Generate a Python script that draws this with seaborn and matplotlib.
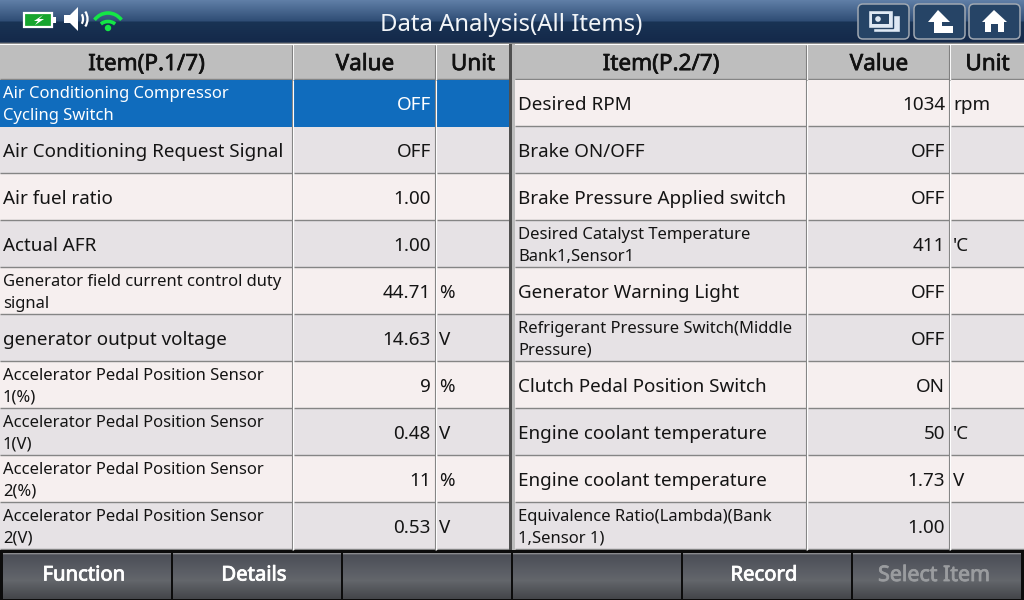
import numpy as np
import seaborn as sns
import matplotlib.pyplot as plt
import matplotlib.patheffects as pe
from matplotlib.colors import ListedColormap, LinearSegmentedColormap
from matplotlib.patches import FancyBboxPatch, Rectangle, Polygon, Arc, Circle

W, H = 1024, 600

title = "Data Analysis(All Items)"
buttons = ["Function", "Details", "", "", "Record", "Select Item"]
headers_left = ["Item(P.1/7)", "Value", "Unit"]
headers_right = ["Item(P.2/7)", "Value", "Unit"]

items_left = [
    "Air Conditioning Compressor\nCycling Switch",
    "Air Conditioning Request Signal",
    "Air fuel ratio",
    "Actual AFR",
    "Generator field current control duty\nsignal",
    "generator output voltage",
    "Accelerator Pedal Position Sensor\n1(%)",
    "Accelerator Pedal Position Sensor\n1(V)",
    "Accelerator Pedal Position Sensor\n2(%)",
    "Accelerator Pedal Position Sensor\n2(V)",
]
values_left = ["OFF", "OFF", "1.00", "1.00", "44.71", "14.63", "9", "0.48", "11", "0.53"]
units_left = ["", "", "", "", "%", "V", "%", "V", "%", "V"]

items_right = [
    "Desired RPM",
    "Brake ON/OFF",
    "Brake Pressure Applied switch",
    "Desired Catalyst Temperature\nBank1,Sensor1",
    "Generator Warning Light",
    "Refrigerant Pressure Switch(Middle\nPressure)",
    "Clutch Pedal Position Switch",
    "Engine coolant temperature",
    "Engine coolant temperature",
    "Equivalence Ratio(Lambda)(Bank\n1,Sensor 1)",
]
values_right = ["1034", "OFF", "OFF", "411", "OFF", "OFF", "ON", "50", "1.73", "1.00"]
units_right = ["rpm", "", "", "'C", "", "", "", "'C", "V", ""]

# row shade codes: 0 light, 1 grey, 2 selected
shades_left = [2, 1, 0, 1, 0, 1, 0, 1, 0, 1]
shades_right = [0, 1, 0, 1, 0, 1, 0, 1, 0, 1]

sns.set_theme(style="white")
plt.rcParams["font.family"] = ["Noto Sans", "DejaVu Sans"]

ROW_TOP, ROW_H, N_ROWS = 80, 47, 10
cell_cmap = ListedColormap(["#f6efef", "#e6e2e5", "#106cbd"])
edge = "#858585"


def px_axes(fig, x0, y0, x1, y1):
    return fig.add_axes([x0 / W, 1 - y1 / H, (x1 - x0) / W, (y1 - y0) / H])


def fake_bold(color, width=0.55):
    return [pe.withStroke(linewidth=width, foreground=color)]


def draw_column(fig, x0, x1, header, texts, shades, kind, pad):
    # header cell
    ax = px_axes(fig, x0, 45, x1, ROW_TOP)
    sns.heatmap(np.zeros((1, 1)), ax=ax, cbar=False, xticklabels=False, yticklabels=False,
                cmap=ListedColormap(["#bebebe"]))
    ax.text(0.5, 0.44, header, ha="center", va="center", fontsize=16.2, color="#111111",
            transform=ax.transAxes, path_effects=fake_bold("#111111", 0.5))
    ax.hlines([0.98], 0, 1, color=edge, lw=1)

    # body cells, one heatmap per column
    ax = px_axes(fig, x0, ROW_TOP, x1, ROW_TOP + ROW_H * N_ROWS)
    sns.heatmap(np.array(shades).reshape(-1, 1), ax=ax, cbar=False, vmin=0, vmax=2,
                xticklabels=False, yticklabels=False, cmap=cell_cmap)
    for r in range(1, N_ROWS + 1):
        if shades[r - 1] != 2:
            ax.hlines(r - 0.012, 0, 1, color=edge, lw=1)
    width = x1 - x0
    dy = 1.5 / ROW_H
    for i, (txt, s) in enumerate(zip(texts, shades)):
        color = "white" if s == 2 else "#141414"
        two_lines = "\n" in txt
        if kind == "value":
            ax.text(1 - pad / width, i + 0.5 + dy, txt, ha="right", va="center", fontsize=13.55, color=color)
        elif kind == "unit":
            ax.text(pad / width, i + 0.5 + dy, txt, ha="left", va="center", fontsize=13.55, color=color)
        else:
            ax.text(pad / width, i + 0.5 + dy, txt, ha="left", va="center", color=color,
                    fontsize=11.95 if two_lines else 13.55, linespacing=1.42 if two_lines else 1)


def draw_table(fig, xs, headers, items, values, units, shades, item_pad):
    pads = [item_pad, 5, 2]
    kinds = ["item", "value", "unit"]
    for j, texts in enumerate([items, values, units]):
        draw_column(fig, xs[j], xs[j + 1] - 1, headers[j], texts, shades, kinds[j], pads[j])


fig = plt.figure(figsize=(W / 100, H / 100), dpi=100, facecolor="#7d7d7d")

# background layer in pixel coordinates
bg = fig.add_axes([0, 0, 1, 1])
bg.axis("off")

top_cmap = LinearSegmentedColormap.from_list(
    "top", [(0, "#5f7ea6"), (0.48, "#2f4d75"), (0.5, "#193354"), (0.97, "#14294a"), (1, "#8d8d8d")])
bg.imshow(np.linspace(0, 1, 44).reshape(-1, 1), extent=(0, W, 44, 0), cmap=top_cmap, aspect="auto")
bg.add_patch(Rectangle((0, 44), W, 36, color="#ffffff", lw=0))
bg.add_patch(Rectangle((0, 550), W, 50, color="#0c0c0c", lw=0))
bg.add_patch(Rectangle((509, 44), 2.5, 506, color="#4f4f4f", lw=0))
bg.add_patch(Rectangle((511.5, 44), 3.5, 506, color="#bcbcbc", lw=0))

bg.text(511.5, 25, title, ha="center", va="center", color="#f2f5f8", fontsize=17.2)

# status icons
bg.add_patch(Rectangle((24, 13), 28, 14, fc="#17a52f", ec="white", lw=1.6))
bg.add_patch(Rectangle((53, 17), 3, 6, fc="white", lw=0))
bg.add_patch(Polygon([(43, 15), (34, 21), (38, 21), (35, 25), (44, 19), (39, 19)], fc="white", lw=0))
bg.add_patch(Polygon([(64, 15), (70, 15), (78, 7), (78, 31), (70, 23), (64, 23)], fc="white", lw=0))
bg.add_patch(Arc((79, 19), 8, 13, theta1=-60, theta2=60, color="white", lw=1.6))
bg.add_patch(Arc((79, 19), 17, 22, theta1=-50, theta2=50, color="white", lw=1.6))
bg.add_patch(Circle((108, 28), 3.2, fc="#14e646", lw=0))
bg.add_patch(Arc((108, 30), 20, 17, theta1=220, theta2=320, color="#14e646", lw=2.6))
bg.add_patch(Arc((108, 32), 35, 38, theta1=222, theta2=318, color="#14e646", lw=2.6))

# top-right buttons
for x in (858, 914, 969):
    bg.add_patch(FancyBboxPatch((x, 4), 51, 35, boxstyle="round,pad=0,rounding_size=5",
                                fc="#264466", ec="#a0a8b2", lw=1.1))
bg.add_patch(Rectangle((873, 15), 27, 17, fc="#dfe9f5", ec="#264466", lw=1))
bg.add_patch(Rectangle((868, 10), 25, 18, fc="#dfe9f5", ec="#264466", lw=1))
bg.add_patch(Rectangle((872, 14), 17, 10, fc="#264466", ec="none"))
bg.add_patch(Circle((878, 19), 2.8, fc="#dfe9f5", lw=0))
bg.add_patch(Polygon([(938, 10), (928, 22), (934, 22), (934, 33), (953, 33), (953, 26), (942, 26), (942, 22), (950, 22)],
                     fc="white", lw=0))
bg.add_patch(Polygon([(994, 10), (982, 22), (985, 22), (985, 32), (991, 32), (991, 24), (998, 24), (998, 32),
                      (1004, 32), (1004, 22), (1007, 22)], fc="white", lw=0))

# bottom buttons
btn_cmap = LinearSegmentedColormap.from_list(
    "btn", [(0, "#8a8b8e"), (0.03, "#4c4f57"), (0.45, "#5d6067"), (0.6, "#63666b"), (1, "#44464a")])
for i, label in enumerate(buttons):
    x = 3 + 170 * i
    bg.imshow(np.linspace(0, 1, 46).reshape(-1, 1), extent=(x, x + 168, 599, 553),
              cmap=btn_cmap, aspect="auto", zorder=2)
    if label:
        col = "#9a9c9f" if label == "Select Item" else "white"
        bg.text(x + 81, 575.5, label, ha="center", va="center", color=col,
                fontsize=15.4 if label == "Select Item" else 14.6,
                zorder=3, path_effects=fake_bold(col, 0.6))
bg.set_xlim(0, W)
bg.set_ylim(H, 0)

xs_left = [0, 294, 437, 510]
xs_right = [515, 808, 951, 1025]
draw_table(fig, xs_left, headers_left, items_left, values_left, units_left, shades_left, 3)
draw_table(fig, xs_right, headers_right, items_right, values_right, units_right, shades_right, 3)

# column rules: grey line with a white line beside it
bg2 = fig.add_axes([0, 0, 1, 1], facecolor="none")
bg2.axis("off")
for x in (293, 436, 807, 950):
    bg2.vlines(x - 1, 45, 550, color="#808080", lw=0.8)
    bg2.vlines(x, 80, 550, color="#fdfdfd", lw=0.8)
bg2.set_xlim(0, W)
bg2.set_ylim(H, 0)

fig.savefig("out.png", dpi=100, facecolor=fig.get_facecolor())
